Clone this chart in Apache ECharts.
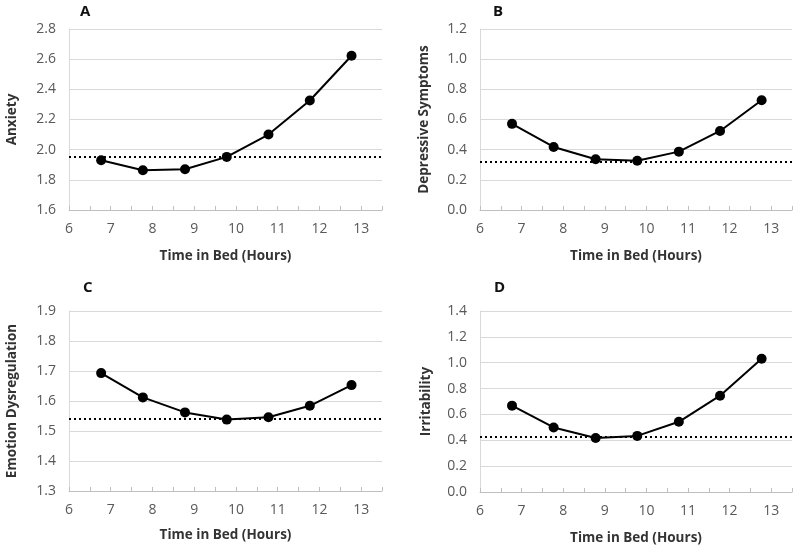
<!DOCTYPE html>
<html>
<head>
<meta charset="utf-8">
<script src="https://cdn.jsdelivr.net/npm/echarts@6/dist/echarts.min.js"></script>
<style>html,body{margin:0;padding:0;background:#fff;}#c{width:800px;height:549px;}</style>
</head>
<body>
<div id="c"></div>
<script>
var hours = [6.77, 7.77, 8.78, 9.78, 10.78, 11.77, 12.77];
var anxiety = [1.93, 1.863, 1.87, 1.952, 2.10, 2.326, 2.623];
var depressive = [0.571, 0.418, 0.336, 0.327, 0.387, 0.524, 0.728];
var emotion = [1.693, 1.612, 1.562, 1.538, 1.546, 1.584, 1.653];
var irritability = [0.668, 0.499, 0.418, 0.434, 0.543, 0.745, 1.031];
var refLines = [1.953, 0.32, 1.54, 0.434];
var panelLetters = ['A', 'B', 'C', 'D'];
var yNames = ['Anxiety', 'Depressive Symptoms', 'Emotion Dysregulation', 'Irritability'];
var xName = 'Time in Bed (Hours)';
var yRanges = [[1.6, 2.8, 0.2], [0.0, 1.2, 0.2], [1.3, 1.9, 0.1], [0.0, 1.4, 0.2]];
var xRange = [6, 13.5, 0.5];
var seriesData = [anxiety, depressive, emotion, irritability];

var font = '"Open Sans", "Noto Sans", sans-serif';
var grids = [
  {left: 69, top: 29, width: 313, height: 181},
  {left: 480, top: 29, width: 312, height: 181},
  {left: 69, top: 311, width: 313, height: 180},
  {left: 480, top: 311, width: 312, height: 181}
];
var titlePos = [[80, 4], [493, 4], [83, 280], [494, 280]];
var yNameGaps = [50, 49, 50, 47];
var xNameGaps = [39, 39, 37, 39];

var option = {
  backgroundColor: '#fff',
  animation: false,
  title: panelLetters.map(function (t, i) {
    return {text: t, left: titlePos[i][0], top: titlePos[i][1], padding: 0,
      textStyle: {fontFamily: font, fontWeight: 'bold', fontSize: 15, color: '#111'}};
  }),
  grid: grids,
  xAxis: grids.map(function (g, i) {
    return {
      type: 'value', gridIndex: i, min: xRange[0], max: xRange[1], interval: xRange[2],
      name: xName, nameLocation: 'middle', nameGap: xNameGaps[i],
      nameTextStyle: {fontFamily: font, fontWeight: 'bold', fontSize: 13.5, color: '#333'},
      axisLine: {show: true, lineStyle: {color: '#bfbfbf', width: 1}},
      axisTick: {show: true, inside: true, length: 4, lineStyle: {color: '#bfbfbf'}},
      splitLine: {show: false},
      axisLabel: {
        margin: 12, fontFamily: font, fontSize: 14, color: '#595959',
        formatter: function (v) { return (Math.abs(v - Math.round(v)) < 1e-6 && v < 13.25) ? String(Math.round(v)) : ''; }
      }
    };
  }),
  yAxis: grids.map(function (g, i) {
    var r = yRanges[i];
    return {
      type: 'value', gridIndex: i, min: r[0], max: r[1], interval: r[2],
      name: yNames[i], nameLocation: 'middle', nameGap: yNameGaps[i], nameRotate: 90,
      nameTextStyle: {fontFamily: font, fontWeight: 'bold', fontSize: 13.5, color: '#333'},
      axisLine: {show: true, lineStyle: {color: '#d9d9d9', width: 1}},
      axisTick: {show: false},
      splitLine: {show: true, lineStyle: {color: '#d9d9d9', width: 1}},
      axisLabel: {
        margin: 13, fontFamily: font, fontSize: 14, color: '#595959',
        formatter: function (v) { return v.toFixed(1); }
      }
    };
  }),
  series: seriesData.map(function (d, i) {
    return {
      type: 'line', xAxisIndex: i, yAxisIndex: i,
      data: hours.map(function (h, k) { return [h, d[k]]; }),
      symbol: 'circle', symbolSize: 10,
      lineStyle: {color: '#000', width: 2},
      itemStyle: {color: '#000'},
      z: 3,
      markLine: {
        silent: true, symbol: ['none', 'none'], label: {show: false},
        lineStyle: {color: '#000', type: [2, 3], width: 2},
        data: [{yAxis: refLines[i]}]
      }
    };
  })
};
echarts.init(document.getElementById('c')).setOption(option);
</script>
</body>
</html>
